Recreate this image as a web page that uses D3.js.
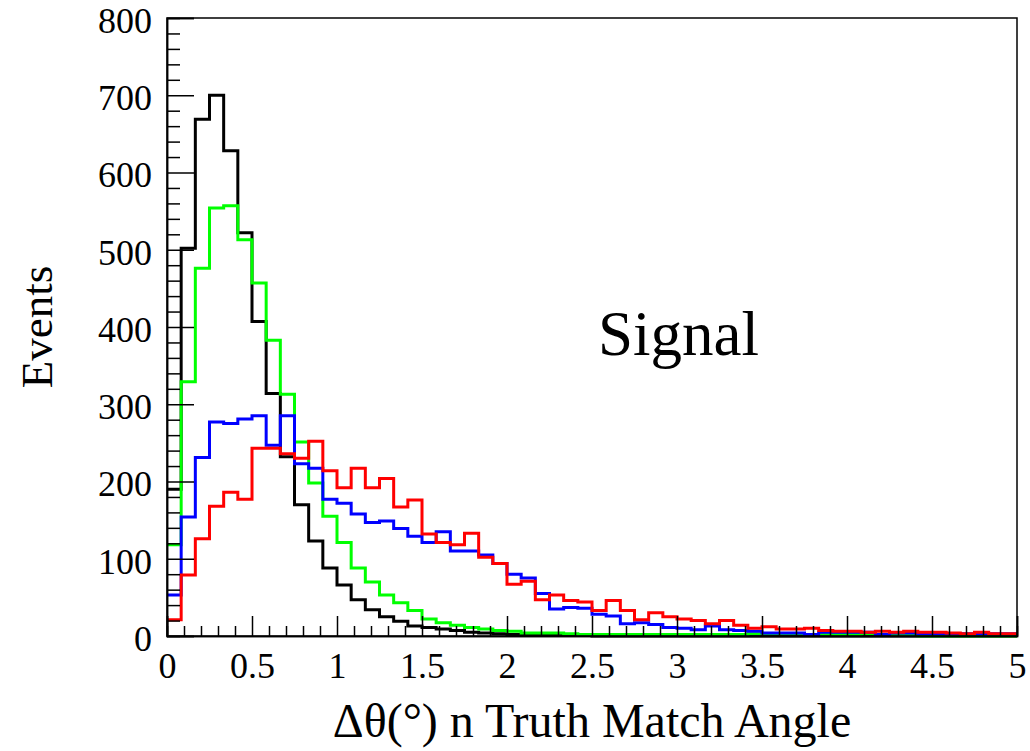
<!DOCTYPE html>
<html><head><meta charset="utf-8">
<script src="https://cdn.jsdelivr.net/npm/d3@7"></script>
<style>html,body{margin:0;padding:0;background:#fff}svg{display:block}</style>
</head><body>
<svg id="c" width="1030" height="751"></svg>
<script>
// 60 bins from 0 to 5 (width 1/12)
const binEdgesMin = 0, binEdgesMax = 5, nBins = 60;
const blackVals = [190,502,669,700,628,522,407,314,232,170,123,88,66,47,34,25,19,13,11,9,7,5,4,3,2,2,1,1,1,1,0,0,0,0,0,0,0,0,0,0,0,0,0,0,0,0,0,0,0,0,0,0,0,0,0,0,0,0,0,0];
const greenVals = [118,329,476,554,557,513,457,383,313,251,198,155,121,88,70,53,43,33,22,17,14,11,9,7,6,4,4,4,3,2,2,2,2,2,2,2,2,2,2,2,2,3,3,3,3,1,2,2,2,3,1,1,1,0,0,0,0,0,0,0];
const blueVals = [53,154,231,277,275,281,285,247,285,223,217,177,172,158,147,149,139,129,121,135,110,110,105,94,80,75,55,35,37,36,28,26,16,17,15,11,10,8,13,8,7,6,4,4,4,2,5,5,5,5,2,4,4,3,3,3,3,3,3,3];
const redVals = [21,79,126,168,186,177,243,243,236,230,252,214,192,217,192,204,167,176,132,121,118,133,102,94,67,71,47,53,46,44,33,46,33,21,30,25,22,20,16,20,14,10,12,9,9,10,7,6,6,5,6,5,6,5,5,4,3,5,3,3];
const seriesColors = ["#000000","#00ff00","#0000ff","#ff0000"];
const xTickLabels = ["0","0.5","1","1.5","2","2.5","3","3.5","4","4.5","5"];
const yTickLabels = ["0","100","200","300","400","500","600","700","800"];

const svg = d3.select("#c");
const L = 167, R = 1017, T = 18, B = 636;
const x = d3.scaleLinear().domain([0,5]).range([L,R]);
const y = d3.scaleLinear().domain([0,800]).range([B,T]);
const font = "'Liberation Serif','Times New Roman',serif";

const bw = (binEdgesMax-binEdgesMin)/nBins;
const line = d3.line().x(d=>x(d[0])).y(d=>y(d[1])).curve(d3.curveStepAfter);
[blackVals,greenVals,blueVals,redVals].forEach((vals,k)=>{
  const pts = vals.map((v,i)=>[binEdgesMin+i*bw, v]);
  pts.push([binEdgesMax, vals[vals.length-1]]);
  svg.append("path").attr("d", line(pts)).attr("fill","none")
    .attr("stroke", seriesColors[k]).attr("stroke-width",3).attr("stroke-linejoin","miter");
});

// frame
svg.append("rect").attr("x",L).attr("y",T).attr("width",R-L).attr("height",B-T)
  .attr("fill","none").attr("stroke","#000").attr("stroke-width",1.5);

// y axis
const yMajor = d3.axisLeft(y).tickValues(d3.range(0,801,100)).tickSize(-27).tickPadding(0)
  .tickFormat((d,i)=>yTickLabels[i]);
const gy = svg.append("g").attr("transform",`translate(${L},0)`).call(yMajor);
const yMinor = d3.axisLeft(y).tickValues(d3.range(0,801,20).filter(v=>v%100!==0)).tickSize(-13).tickFormat("");
const gy2 = svg.append("g").attr("transform",`translate(${L},0)`).call(yMinor);
[gy,gy2].forEach(g=>{g.select(".domain").attr("stroke","#000").attr("stroke-width",1.5);
  g.selectAll(".tick line").attr("stroke","#000").attr("stroke-width",1.5);});
gy.selectAll(".tick text").attr("font-family",font).attr("font-size",36).attr("fill","#000")
  .attr("x",-15).attr("dy","0.4em");

// x axis
const xMajor = d3.axisBottom(x).tickValues(d3.range(0,5.01,0.5)).tickSize(-20).tickPadding(0)
  .tickFormat((d,i)=>xTickLabels[i]);
const gx = svg.append("g").attr("transform",`translate(0,${B})`).call(xMajor);
const xMinor = d3.axisBottom(x).tickValues(d3.range(0,51,1).filter(v=>v%5!==0).map(v=>v/10)).tickSize(-10).tickFormat("");
const gx2 = svg.append("g").attr("transform",`translate(0,${B})`).call(xMinor);
[gx,gx2].forEach(g=>{g.select(".domain").attr("stroke","#000").attr("stroke-width",1.5);
  g.selectAll(".tick line").attr("stroke","#000").attr("stroke-width",1.5);});
gx.selectAll(".tick text").attr("font-family",font).attr("font-size",36).attr("fill","#000")
  .attr("y",42).attr("dy",0);

// titles
svg.append("text").attr("x",(L+R)/2).attr("y",737).attr("text-anchor","middle")
  .attr("font-family",font).attr("font-size",48).text("Δθ(°) n Truth Match Angle");
svg.append("text").attr("transform",`translate(52,${(T+B)/2}) rotate(-90)`).attr("text-anchor","middle")
  .attr("font-family",font).attr("font-size",45).text("Events");
svg.append("text").attr("x",598).attr("y",355).attr("font-family",font).attr("font-size",63).text("Signal");
</script>
</body></html>
